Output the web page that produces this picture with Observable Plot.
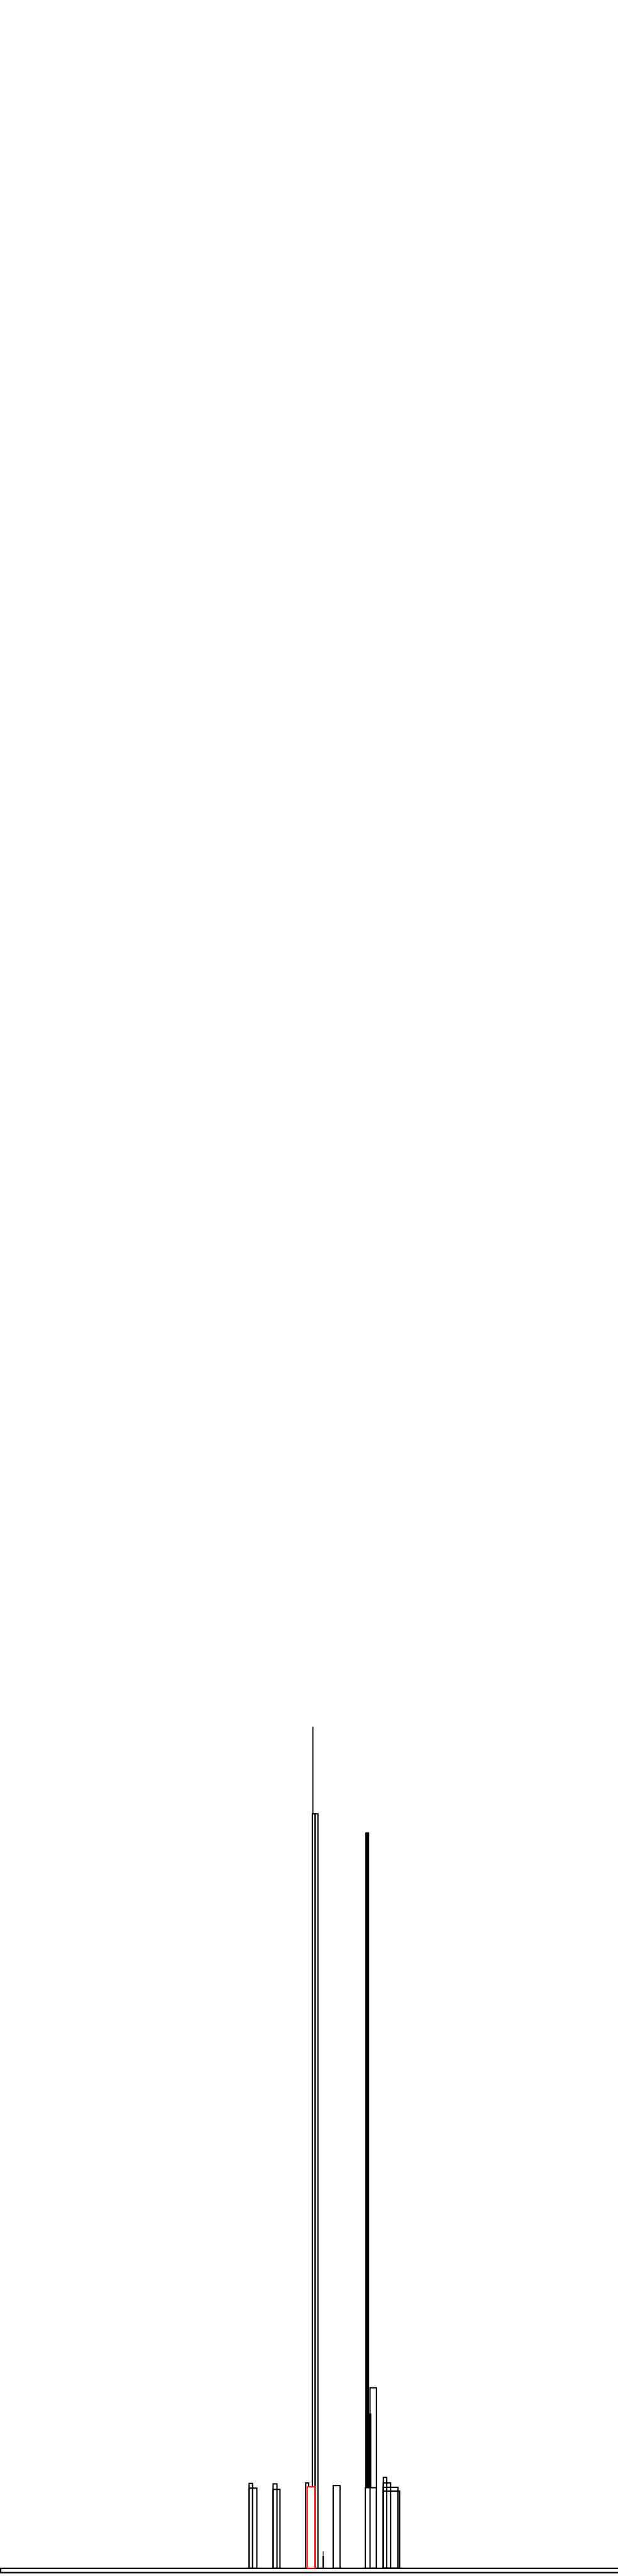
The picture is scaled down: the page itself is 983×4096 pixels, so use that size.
<!DOCTYPE html>
<html><head><meta charset="utf-8">
<script src="https://cdn.jsdelivr.net/npm/d3@7"></script>
<script src="https://cdn.jsdelivr.net/npm/@observablehq/plot@0.6"></script>
<style>html,body{margin:0;padding:0;background:#fff}</style>
</head><body><div id="chart"></div>
<script>
const S = 0.682;
// Outlined towers (left x, right x, height)
const outlineLeft  = [581, 581, 637, 637, 713, 777, 894, 894, 894, 894, 852, 863, 728.5, 735];
const outlineRight = [589, 599, 646, 653, 720, 793, 902, 911, 928, 932, 878, 878, 735, 741.5];
const outlineTop   = [198, 187, 197, 184, 199, 193, 212, 199, 189, 180, 188, 421, 1759, 1759];
// Solid (filled) columns
const solidLeft  = [852, 852, 753, 752, 728.5];
const solidRight = [861, 866, 754.5, 755.5, 731];
const solidBase  = [188, 188, 0, 0, 1759];
const solidTop   = [1716, 361, 40, 29, 1962];
// Highlighted tower
const hiLeft = [716.5], hiRight = [734.5], hiTop = [190];
// Ground strip
const groundLeft = [1.5], groundRight = [1460], groundTop = [0], groundBase = [-10];

const outlines = outlineLeft.map((l, i) => ({l, r: outlineRight[i], t: outlineTop[i]}));
const solids = solidLeft.map((l, i) => ({l, r: solidRight[i], b: solidBase[i], t: solidTop[i]}));
const his = hiLeft.map((l, i) => ({l, r: hiRight[i], t: hiTop[i]}));
const ground = groundLeft.map((l, i) => ({l, r: groundRight[i], t: groundTop[i], b: groundBase[i]}));
const zero = () => 0;

const chart = Plot.plot({
  width: 983, height: 4096, margin: 0,
  x: {domain: [0, 1440], range: [0, 1440 * S], axis: null},
  y: {domain: [-12, 5988], range: [6000 * S, 0], axis: null},
  marks: [
    Plot.rect(ground, {x1: "l", x2: "r", y1: "b", y2: "t", fill: "none", stroke: "black", strokeWidth: 3.3 * S}),
    Plot.rect(solids, {x1: "l", x2: "r", y1: "b", y2: "t", fill: "black"}),
    Plot.rect(outlines, {x1: "l", x2: "r", y1: zero, y2: "t", fill: "none", stroke: "black", strokeWidth: 3 * S}),
    Plot.rect(his, {x1: "l", x2: "r", y1: zero, y2: "t", fill: "white", stroke: "red", strokeWidth: 3 * S})
  ]
});
document.getElementById("chart").appendChild(chart);
</script>
</body></html>
